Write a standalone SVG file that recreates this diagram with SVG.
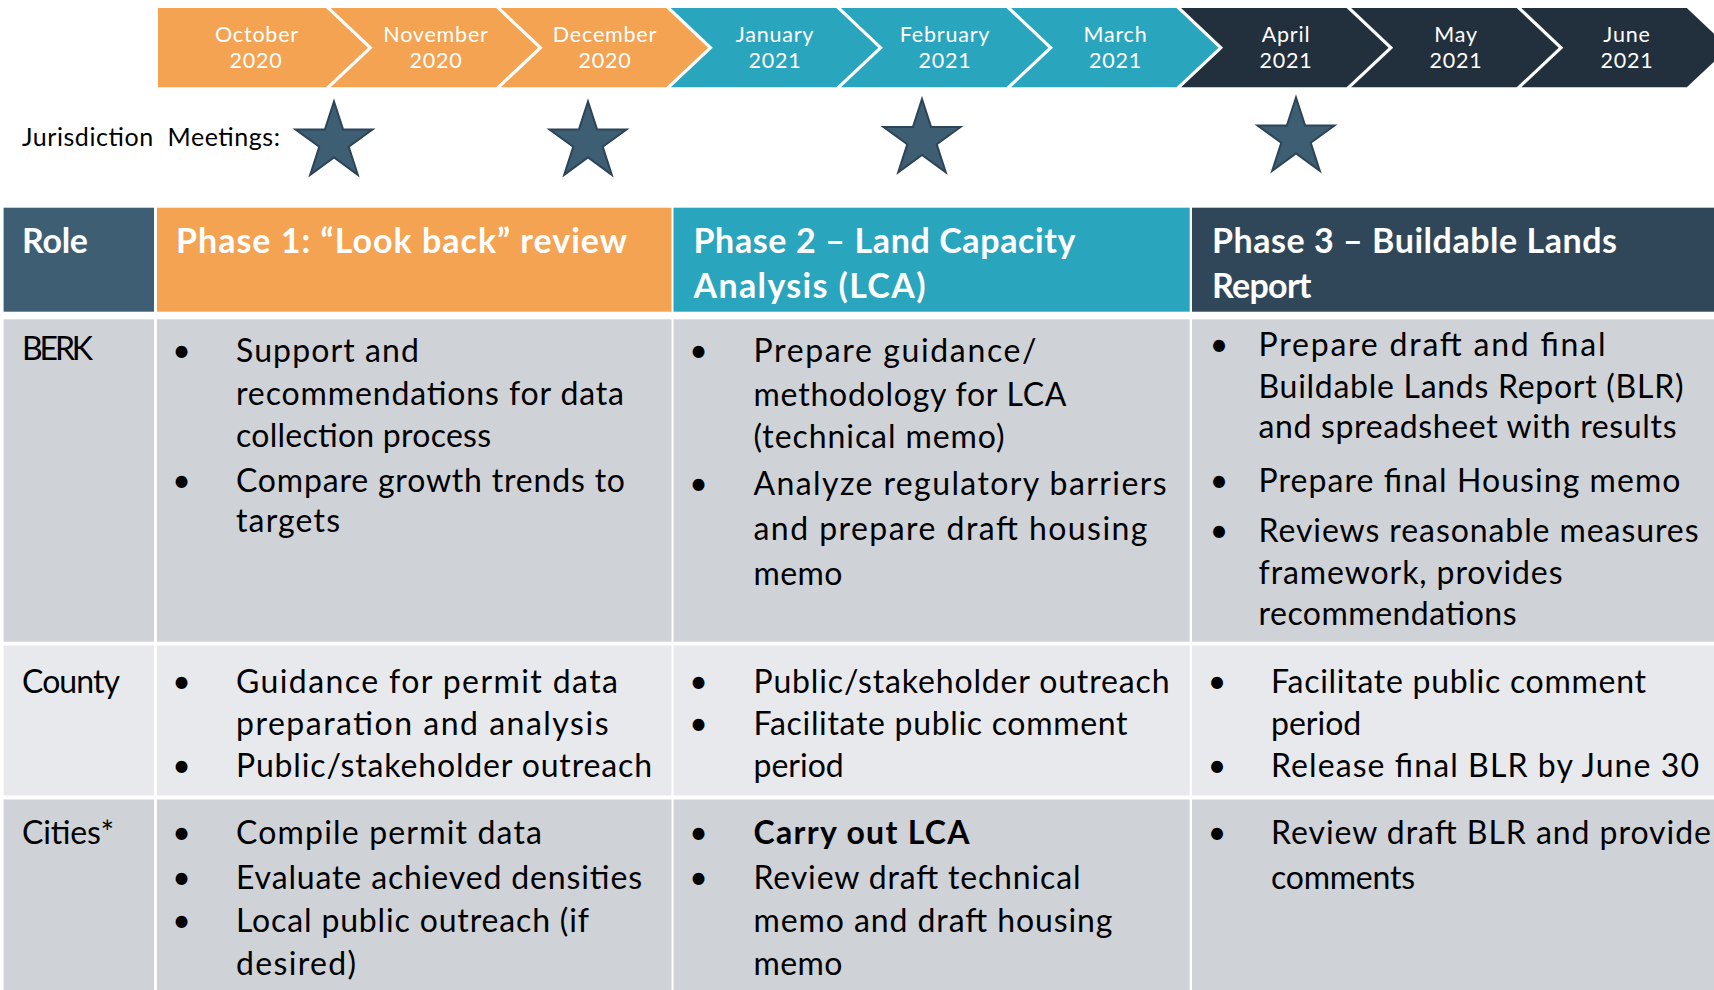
<svg xmlns="http://www.w3.org/2000/svg" width="1714" height="990" viewBox="0 0 1714 990">
<style>
.orange{fill:#F4A353}
.teal{fill:#2AA5BE}
.dark{fill:#22303D}
.mon{font-family:Lato,"Liberation Sans",sans-serif;font-size:21.5px;letter-spacing:0.8px;fill:#FFFFFF;text-anchor:middle}
.hdr{font-family:Lato,"Liberation Sans",sans-serif;font-size:34px;font-weight:700;fill:#FFFFFF}
.body{font-family:Lato,"Liberation Sans",sans-serif;font-size:32px;fill:#000000}
.bul{font-family:Lato,"Liberation Sans",sans-serif;font-size:32px;fill:#000000;text-anchor:middle}
.bold{font-weight:700}
.rowA{fill:#CFD2D7}
.rowB{fill:#E8E9EC}
.star{fill:#3E5E74;stroke:#2C4456;stroke-width:2;stroke-linejoin:miter}
</style>
<defs>
<polygon id="starShape" class="star" points="0,-40.5 9.11,-12.54 38.52,-12.52 14.74,4.79 23.81,32.77 0,15.5 -23.81,32.77 -14.74,4.79 -38.52,-12.52 -9.11,-12.54"/>
</defs>
<rect x="0" y="0" width="1714" height="990" fill="#FFFFFF"/>

<g id="timeline">
  <polygon class="orange" points="158,8 326,8 368,47.7 326,87.3 158,87.3"/>
  <polygon class="orange" points="330.6,8 496.1,8 538.1,47.7 496.1,87.3 330.6,87.3 372.6,47.7"/>
  <polygon class="orange" points="500.7,8 666.2,8 708.2,47.7 666.2,87.3 500.7,87.3 542.7,47.7"/>
  <polygon class="teal" points="670.8,8 836.3,8 878.3,47.7 836.3,87.3 670.8,87.3 712.8,47.7"/>
  <polygon class="teal" points="840.9,8 1006.4,8 1048.4,47.7 1006.4,87.3 840.9,87.3 882.9,47.7"/>
  <polygon class="teal" points="1011,8 1176.5,8 1218.5,47.7 1176.5,87.3 1011,87.3 1053,47.7"/>
  <polygon class="dark" points="1181.1,8 1346.6,8 1388.6,47.7 1346.6,87.3 1181.1,87.3 1223.1,47.7"/>
  <polygon class="dark" points="1351.2,8 1516.7,8 1558.7,47.7 1516.7,87.3 1351.2,87.3 1393.2,47.7"/>
  <polygon class="dark" points="1521.3,8 1686.8,8 1728.8,47.7 1686.8,87.3 1521.3,87.3 1563.3,47.7"/>
  <text class="mon" y="41.5"><tspan x="257">October</tspan><tspan x="256" y="67.5">2020</tspan></text>
  <text class="mon" y="41.5"><tspan x="436">November</tspan><tspan x="436" y="67.5">2020</tspan></text>
  <text class="mon" y="41.5"><tspan x="605">December</tspan><tspan x="605" y="67.5">2020</tspan></text>
  <text class="mon" y="41.5"><tspan x="775">January</tspan><tspan x="775" y="67.5">2021</tspan></text>
  <text class="mon" y="41.5"><tspan x="945">February</tspan><tspan x="945" y="67.5">2021</tspan></text>
  <text class="mon" y="41.5"><tspan x="1115.5">March</tspan><tspan x="1115.5" y="67.5">2021</tspan></text>
  <text class="mon" y="41.5"><tspan x="1286">April</tspan><tspan x="1286" y="67.5">2021</tspan></text>
  <text class="mon" y="41.5"><tspan x="1456">May</tspan><tspan x="1456" y="67.5">2021</tspan></text>
  <text class="mon" y="41.5"><tspan x="1627">June</tspan><tspan x="1627" y="67.5">2021</tspan></text>
</g>

<g id="meetings">
  <text x="22" y="145.5" font-family="Lato, 'Liberation Sans', sans-serif" font-size="25" fill="#000000" textLength="258" xml:space="preserve">Jurisdiction  Meetings:</text>
  <use href="#starShape" x="334" y="142"/>
  <use href="#starShape" x="588" y="142"/>
  <use href="#starShape" x="922" y="139.5"/>
  <use href="#starShape" x="1296" y="138"/>
</g>

<g id="header">
  <rect x="3.6" y="207.7" width="150.4" height="104" fill="#3E5E74"/>
  <rect x="157" y="207.7" width="514.5" height="104" fill="#F4A353"/>
  <rect x="673.5" y="207.7" width="516.2" height="104" fill="#2AA5BE"/>
  <rect x="1192" y="207.7" width="522" height="104" fill="#2F4758"/>
  <text class="hdr" x="22" y="253" textLength="66">Role</text>
  <text class="hdr" x="176" y="253" textLength="451">Phase 1: “Look back” review</text>
  <text class="hdr" x="693.5" y="253" textLength="382">Phase 2 – Land Capacity</text>
  <text class="hdr" x="693.5" y="298" textLength="232">Analysis (LCA)</text>
  <text class="hdr" x="1212" y="253" textLength="405">Phase 3 – Buildable Lands</text>
  <text class="hdr" x="1212" y="298" textLength="99.5">Report</text>
</g>

<g id="row-berk">
  <rect class="rowA" x="3.6" y="319.3" width="150.4" height="322.4"/>
  <rect class="rowA" x="157" y="319.3" width="514.5" height="322.4"/>
  <rect class="rowA" x="673.5" y="319.3" width="516.2" height="322.4"/>
  <rect class="rowA" x="1192" y="319.3" width="522" height="322.4"/>
  <text class="body" x="22" y="360" textLength="71">BERK</text>
  <text class="bul" x="181.5" y="361.7">•</text>
  <text class="body" x="236" y="361.7" textLength="183">Support and</text>
  <text class="body" x="236" y="405" textLength="388">recommendations for data</text>
  <text class="body" x="236" y="447" textLength="255">collection process</text>
  <text class="bul" x="181.5" y="492">•</text>
  <text class="body" x="236" y="492" textLength="389">Compare growth trends to</text>
  <text class="body" x="236" y="531.5" textLength="104">targets</text>

  <text class="bul" x="698.5" y="362">•</text>
  <text class="body" x="753.5" y="362" textLength="283">Prepare guidance/</text>
  <text class="body" x="753.5" y="405.5" textLength="313">methodology for LCA</text>
  <text class="body" x="753.5" y="448" textLength="251">(technical memo)</text>
  <text class="bul" x="698.5" y="495">•</text>
  <text class="body" x="753.5" y="495" textLength="413">Analyze regulatory barriers</text>
  <text class="body" x="753.5" y="540" textLength="394">and prepare draft housing</text>
  <text class="body" x="753.5" y="585" textLength="89">memo</text>

  <text class="bul" x="1219" y="355.5">•</text>
  <text class="body" x="1258.5" y="355.5" textLength="347">Prepare draft and final</text>
  <text class="body" x="1258.5" y="398" textLength="425">Buildable Lands Report (BLR)</text>
  <text class="body" x="1258.5" y="437.5" textLength="418">and spreadsheet with results</text>
  <text class="bul" x="1219" y="491.7">•</text>
  <text class="body" x="1258.5" y="491.7" textLength="422">Prepare final Housing memo</text>
  <text class="bul" x="1219" y="542">•</text>
  <text class="body" x="1258.5" y="542" textLength="440">Reviews reasonable measures</text>
  <text class="body" x="1258.5" y="583.5" textLength="304">framework, provides</text>
  <text class="body" x="1258.5" y="625" textLength="258">recommendations</text>
</g>

<g id="row-county">
  <rect class="rowB" x="3.6" y="645.5" width="150.4" height="150"/>
  <rect class="rowB" x="157" y="645.5" width="514.5" height="150"/>
  <rect class="rowB" x="673.5" y="645.5" width="516.2" height="150"/>
  <rect class="rowB" x="1192" y="645.5" width="522" height="150"/>
  <text class="body" x="22" y="693" textLength="98">County</text>
  <text class="bul" x="181.5" y="693">•</text>
  <text class="body" x="236" y="693" textLength="382">Guidance for permit data</text>
  <text class="body" x="236" y="735" textLength="372.5">preparation and analysis</text>
  <text class="bul" x="181.5" y="777">•</text>
  <text class="body" x="236" y="777" textLength="416">Public/stakeholder outreach</text>

  <text class="bul" x="698.5" y="693">•</text>
  <text class="body" x="753.5" y="693" textLength="416">Public/stakeholder outreach</text>
  <text class="bul" x="698.5" y="735">•</text>
  <text class="body" x="753.5" y="735" textLength="374">Facilitate public comment</text>
  <text class="body" x="753.5" y="777">period</text>

  <text class="bul" x="1217" y="693">•</text>
  <text class="body" x="1271" y="693" textLength="375">Facilitate public comment</text>
  <text class="body" x="1271" y="735">period</text>
  <text class="bul" x="1217" y="777">•</text>
  <text class="body" x="1271" y="777" textLength="428">Release final BLR by June 30</text>
</g>

<g id="row-cities">
  <rect class="rowA" x="3.6" y="799.5" width="150.4" height="191"/>
  <rect class="rowA" x="157" y="799.5" width="514.5" height="191"/>
  <rect class="rowA" x="673.5" y="799.5" width="516.2" height="191"/>
  <rect class="rowA" x="1192" y="799.5" width="522" height="191"/>
  <text class="body" x="22" y="843.5" textLength="92">Cities*</text>
  <text class="bul" x="181.5" y="844">•</text>
  <text class="body" x="236" y="844" textLength="306">Compile permit data</text>
  <text class="bul" x="181.5" y="888.5">•</text>
  <text class="body" x="236" y="888.5" textLength="406">Evaluate achieved densities</text>
  <text class="bul" x="181.5" y="932">•</text>
  <text class="body" x="236" y="932" textLength="353">Local public outreach (if</text>
  <text class="body" x="236" y="975" textLength="120">desired)</text>

  <text class="bul" x="698.5" y="844">•</text>
  <text class="body bold" x="753.5" y="844" textLength="216">Carry out LCA</text>
  <text class="bul" x="698.5" y="888.5">•</text>
  <text class="body" x="753.5" y="888.5" textLength="327">Review draft technical</text>
  <text class="body" x="753.5" y="932" textLength="359">memo and draft housing</text>
  <text class="body" x="753.5" y="975" textLength="89">memo</text>

  <text class="bul" x="1217" y="844">•</text>
  <text class="body" x="1271" y="844" textLength="440">Review draft BLR and provide</text>
  <text class="body" x="1271" y="888.5" textLength="144">comments</text>
</g>
</svg>
